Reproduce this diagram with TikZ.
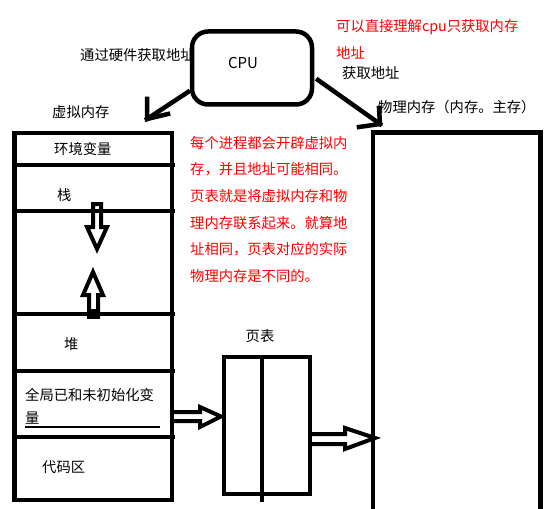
\documentclass[tikz,border=0pt]{standalone}
\usepackage{fontspec}
\setmainfont{Noto Sans CJK SC}
\usetikzlibrary{calc}
\tikzset{
  heavy/.style={line width=4.5pt, line cap=rect},
  thinline/.style={line width=1.3pt},
  lbl/.style={inner sep=0pt, font=\fontsize{14.3}{17}\selectfont, text=black},
  note/.style={inner sep=0pt, font=\fontsize{14.3}{26.6}\selectfont, text=red, align=left},
  hollow/.style={line width=4pt, line join=miter},
}
\begin{document}
\begin{tikzpicture}[x=1pt,y=-1pt]
\useasboundingbox (0,0) rectangle (556,508);
% CPU
\node[draw, heavy, rounded corners=16pt, minimum width=120pt, minimum height=73pt, inner sep=0pt] (cpu) at (252,68) {};
\node[lbl, font=\fontsize{15}{17}\selectfont] (cputxt) at (243,63) {CPU};
% top texts
\node[lbl, anchor=west] (hw) at (80,55) {通过硬件获取地址};
\node[note, anchor=west] (n1) at (336,27) {可以直接理解cpu只获取内存};
\node[note, anchor=west] (n2) at (336,53) {地址};
\node[lbl, anchor=west] (get) at (342,73) {获取地址};
\node[lbl, anchor=west] (vmt) at (52,112) {虚拟内存};
\node[lbl, anchor=west] (pmt) at (378,107) {物理内存（内存。主存）};
% arrow CPU -> virtual memory
\coordinate (cpuL) at (188,92);
\coordinate (vmtip) at (147,119);
\draw[heavy] (cpuL) -- (vmtip);
\draw[heavy] (vmtip) ++(0,-20) -- (vmtip) -- ++(21,-5);
% arrow CPU -> physical memory (with small gap)
\coordinate (cpuR) at (318,80);
\coordinate (pmtip) at (380,124);
\draw[heavy, dash pattern=on 11pt off 4pt on 200pt] (cpuR) -- (pmtip);
\draw[heavy] (pmtip) ++(-1,-16) -- (pmtip) -- ++(-21,3);
% virtual memory box
\coordinate (vmNW) at (14.5,133);
\coordinate (vmSE) at (172,500);
\draw[heavy] (vmNW) rectangle (vmSE);
\foreach \yy in {165,211,314,371,437} \draw[heavy] (14.5,\yy) -- (173,\yy);
\node[lbl, anchor=west] (env) at (54,149) {环境变量};
\node[lbl, anchor=west] (stack) at (57,195) {栈};
\node[lbl, anchor=west] (heap) at (64,344) {堆};
\node[lbl, anchor=west] (glob1) at (25,395) {全局已和未初始化变};
\node[lbl, anchor=west] (glob2) at (25,418) {量};
\draw[thinline] (25,427) -- (160,427);
\node[lbl, anchor=west] (code) at (42,467) {代码区};
% stack / heap growth arrows
\draw[hollow] (93,204) -- (101,204) -- (101,227) -- (107,227) -- (97,249) -- (87,227) -- (93,227) -- cycle;
\draw[hollow] (93,272) -- (103,295) -- (98,295) -- (98,316) -- (89,316) -- (89,295) -- (83,295) -- cycle;
\fill (87,309) rectangle (100,319);
% page table
\node[lbl] (ptt) at (260,336) {页表};
\node[draw, heavy, line cap=butt, minimum width=86pt, minimum height=137pt, inner sep=0pt] (pt) at (267,425.5) {};
\draw[heavy, line cap=butt] ($(pt.north)+(-5,0)$) -- ($(pt.south)+(-5,6)$);
% physical memory
\draw[heavy] (373,508) -- (373,132.5) -- (540.5,132.5) -- (540.5,508);
% hollow arrows
\draw[hollow] (174,412) -- (200,412) -- (200,407) -- (221,416.5) -- (200,427) -- (200,421) -- (174,421);
\draw[hollow] (312,434) -- (345,434) -- (345,428) -- (375,438) -- (345,449) -- (345,444) -- (312,444);
% red paragraph
\node[note, anchor=north west] (para) at (190,136) {每个进程都会开辟虚拟内\\存，并且地址可能相同。\\页表就是将虚拟内存和物\\理内存联系起来。就算地\\址相同，页表对应的实际\\物理内存是不同的。};
\end{tikzpicture}
\end{document}
